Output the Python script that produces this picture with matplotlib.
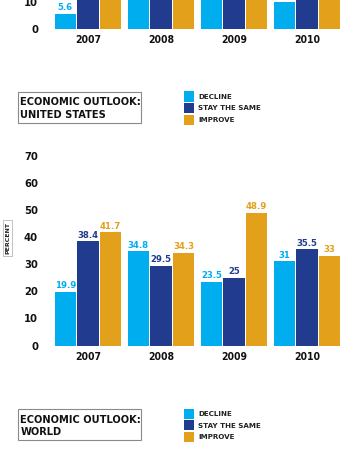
import numpy as np
import matplotlib
matplotlib.use('Agg')
from matplotlib import pyplot as plt
from matplotlib.patches import Rectangle

# data
years = ['2007', '2008', '2009', '2010']
series = ['DECLINE', 'STAY THE SAME', 'IMPROVE']
colors = ['#00aeef', '#213c8f', '#e3a01b']

# top chart (only the bottom strip is visible in the crop)
top_decline = [5.6, 30.2, 27.4, 10.1]
top_stay = [44.1, 38.0, 35.2, 45.3]
top_improve = [50.3, 31.8, 37.4, 44.6]

# united states
us_decline = [19.9, 34.8, 23.5, 31]
us_stay = [38.4, 29.5, 25, 35.5]
us_improve = [41.7, 34.3, 48.9, 33]

narrow = dict(family='DejaVu Sans', fontstretch='condensed', fontweight='bold')
W, H = 360, 451

def fx(px):
    return px / W

def fy(py):
    return 1 - py / H

fig = plt.figure(figsize=(3.6, 4.51), dpi=100)
fig.patch.set_facecolor('white')

scale = 2.71  # px per percent
x = np.arange(len(years))
bw, off = 0.295, 0.31


def bar_chart(ax, vals, ymax):
    for i, v in enumerate(vals):
        bars = ax.bar(x + (i - 1) * off, v, bw, color=colors[i])
        for b, val in zip(bars, v):
            if val > ymax * 0.8:
                continue  # label would sit outside the cropped view
            ax.annotate('%g' % val, (b.get_x() + b.get_width() / 2, val),
                        xytext=(0, 1.2), textcoords='offset points',
                        ha='center', va='bottom', fontsize=6.8,
                        color=colors[i], annotation_clip=False, **narrow)
    ax.set_xlim(-0.589, 3.589)
    ax.set_ylim(0, ymax)
    for s in ax.spines.values():
        s.set_visible(False)
    ax.set_yticks(np.arange(0, ymax + 0.01, 10))
    ax.set_xticks(x)
    ax.set_xticklabels(years)
    ax.tick_params(length=0, pad=5, labelsize=8)
    ax.tick_params(axis='x', pad=4.5, labelsize=7.5)
    for t in ax.get_yticklabels() + ax.get_xticklabels():
        t.set_fontweight('bold')
        t.set_family('DejaVu Sans')
        t.set_fontstretch('condensed')
        t.set_color('#111111')


# top strip
base_top = 29
ax0 = fig.add_axes([fx(45), fy(base_top), 305 / W, base_top / H])
bar_chart(ax0, [top_decline, top_stay, top_improve], base_top / scale)

# main chart
base = 345.5
ax1 = fig.add_axes([fx(45), fy(base), 305 / W, 70 * scale / H])
bar_chart(ax1, [us_decline, us_stay, us_improve], 70)

fig.text(fx(7.5), fy(238), 'PERCENT', rotation=90, ha='center', va='center',
         fontsize=4.5, fontweight='bold', color='#222222',
         bbox=dict(boxstyle='square,pad=0.25', fc='none', ec='#aaaaaa', lw=0.5))


def title_block(top, line1, line2):
    fig.add_artist(Rectangle((fx(17.5), fy(top + 31)), 123.5 / W, 31 / H,
                             transform=fig.transFigure, fc='none',
                             ec='#8a8a8a', lw=0.8))
    fig.text(fx(20.5), fy(top + 13.8), line1, ha='left', va='baseline',
             fontsize=7.9, color='#111111', **narrow)
    fig.text(fx(20.5), fy(top + 26.2), line2, ha='left', va='baseline',
             fontsize=7.9, color='#111111', **narrow)
    for i, name in enumerate(series):
        y0 = top + i * 11.5
        fig.add_artist(Rectangle((fx(184), fy(y0 + 10)), 10 / W, 10 / H,
                                 transform=fig.transFigure, fc=colors[i], ec='none'))
        fig.text(fx(198), fy(y0 + 5.2), name, ha='left', va='center',
                 fontsize=5.1, fontweight='bold', color='#222222')


title_block(91.5, 'ECONOMIC OUTLOOK:', 'UNITED STATES')
title_block(408.8, 'ECONOMIC OUTLOOK:', 'WORLD')

fig.savefig('out.png', dpi=100)
